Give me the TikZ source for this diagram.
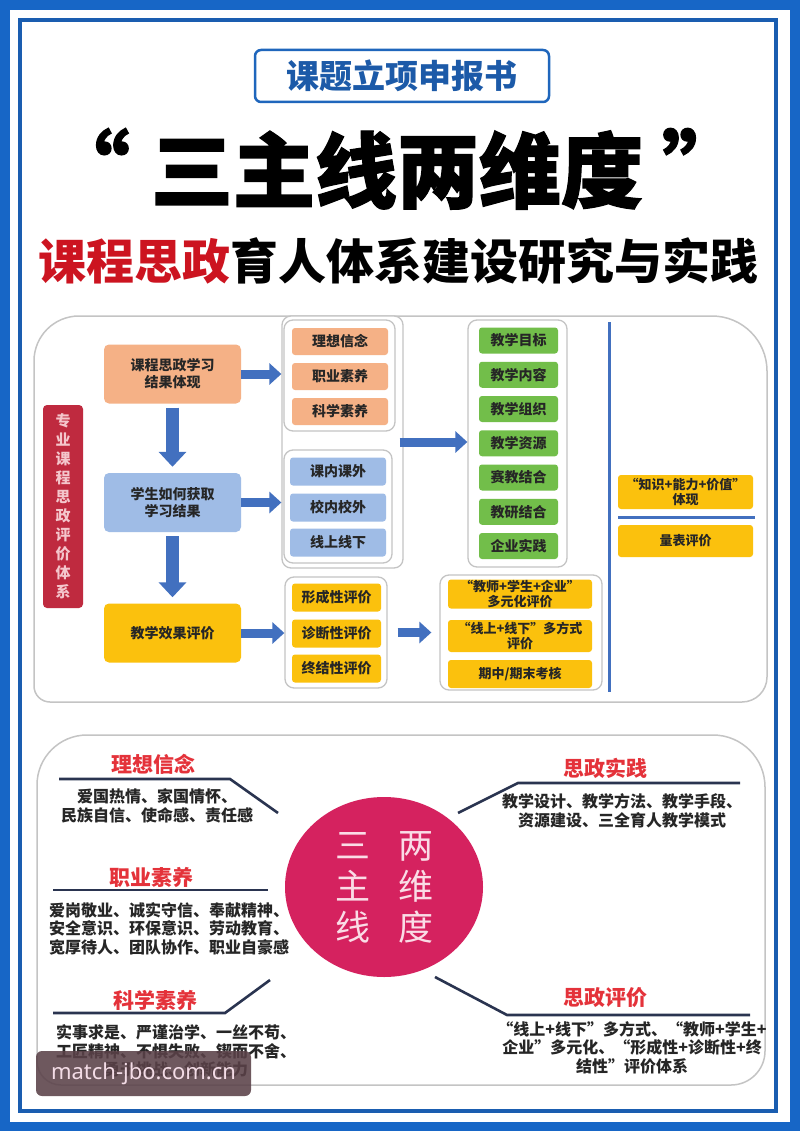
\documentclass[tikz,border=0pt]{standalone}
\usepackage{fontspec}
\setmainfont{Noto Sans CJK SC}
\newfontfamily\cjkheavy[FakeBold=1.5]{Noto Sans CJK SC}
\newfontfamily\wmfont{Noto Sans}
\usetikzlibrary{arrows.meta,shapes.geometric}
\newcommand\fz[2]{\fontsize{#1}{#2}\selectfont}
\definecolor{framebl}{HTML}{1766C6}
\definecolor{framebltwo}{HTML}{1A5DB0}
\definecolor{titlebl}{HTML}{1F66BC}
\definecolor{titletxt}{HTML}{1C5AA8}
\definecolor{titlered}{HTML}{CC1420}
\definecolor{orfill}{HTML}{F5B186}
\definecolor{blfill}{HTML}{9FBCE6}
\definecolor{yefill}{HTML}{FBC10D}
\definecolor{grfill}{HTML}{72BE4A}
\definecolor{redbox}{HTML}{BF2A3F}
\definecolor{pinktxt}{HTML}{F4C6CC}
\definecolor{arrowbl}{HTML}{4270BF}
\definecolor{grayline}{HTML}{C4C4C4}
\definecolor{circfill}{HTML}{D5225F}
\definecolor{circtxt}{HTML}{FADCE6}
\definecolor{headred}{HTML}{E4323A}
\definecolor{navy}{HTML}{2A3450}
\definecolor{txtdark}{HTML}{262626}
\definecolor{wmfill}{HTML}{5A4148}
\definecolor{wmtxt}{HTML}{F3DCE6}
\tikzset{
  item/.style={rounded corners=3pt, inner sep=0pt, align=center, text=txtdark, font=\bfseries\fz{14}{16}},
  oitem/.style={item, fill=orfill, minimum width=96pt, minimum height=27pt},
  bitem/.style={item, fill=blfill, minimum width=96pt, minimum height=28pt},
  yitem/.style={item, fill=yefill},
  gitem/.style={item, fill=grfill, minimum width=79pt, minimum height=26pt},
  ritem/.style={item, fill=yefill, font=\bfseries\fz{13}{15}, minimum width=144pt},
  bigbox/.style={rounded corners=5pt, inner sep=0pt, align=center, text=txtdark, font=\bfseries\fz{14}{17}, minimum width=137pt, minimum height=59pt},
  grp/.style={draw=grayline, line width=1.3pt, fill=white, rounded corners=9pt, inner sep=0pt},
  rarrow/.style={draw=arrowbl, line width=9pt, -{Triangle[length=12pt,width=21pt]}},
  darrow/.style={draw=arrowbl, line width=13pt, -{Triangle[length=15pt,width=27pt]}},
  panel/.style={draw=grayline, line width=1.5pt},
  branch/.style={draw=navy, line width=2.6pt},
  head/.style={text=headred, font=\bfseries\fz{21}{23}, inner sep=0pt},
  body/.style={text=txtdark, font=\bfseries\fz{16}{18.5}, align=center, inner sep=0pt},
}
\begin{document}
\begin{tikzpicture}[x=1pt,y=-1pt]
\useasboundingbox (0,0) rectangle (800,1131);
% frame
\fill[framebl] (0,0) rectangle (800,1131);
\fill[white] (10,10) rectangle (790,1122);
\draw[framebltwo, line width=4pt] (20,20) rectangle (775.5,1110.5);

% titles
\node[draw=titlebl, line width=2.5pt, rounded corners=6pt, minimum width=294pt, minimum height=52pt, inner sep=0pt, text=titletxt, font=\bfseries\fz{33}{36}] (tb) at (402,76) {课题立项申报书};
\node[inner sep=0pt, font=\cjkheavy\bfseries\fz{82}{90}] (mt) at (397,170) {三主线两维度};
\node[inner sep=0pt, font=\cjkheavy\bfseries\fz{82}{90}, anchor=north east] (ql) at (130,128) {“};
\node[inner sep=0pt, font=\cjkheavy\bfseries\fz{82}{90}, anchor=north west] (qr) at (662,128) {”};
\node[inner sep=0pt, font=\bfseries\fz{48}{52}] (st) at (398,261) {\textcolor{titlered}{课程思政}育人体系建设研究与实践};

% upper panel
\draw[panel] (34,500) [rounded corners=45pt] |- (400,316) [rounded corners=55pt] -| (767,500) [rounded corners=25pt] |- (400,702) [rounded corners=16pt] -| cycle;

\node[fill=redbox, rounded corners=4pt, minimum width=40pt, minimum height=203pt, inner sep=0pt, text=pinktxt, align=center, font=\bfseries\fz{15}{19}] (rv) at (63,506.5) {专\\业\\课\\程\\思\\政\\评\\价\\体\\系};

\node[bigbox, fill=orfill] (ob) at (172.5,374) {课程思政学习\\结果体现};
\node[bigbox, fill=blfill] (bb) at (172.5,502.5) {学生如何获取\\学习结果};
\node[bigbox, fill=yefill] (yb) at (172.5,633) {教学效果评价};

\node[grp, minimum width=121pt, minimum height=252pt] (c1) at (342.5,442) {};
\node[grp, minimum width=111pt, minimum height=111pt] (og) at (339.5,375.5) {};
\node[grp, minimum width=108pt, minimum height=113pt] (bg) at (338,506.5) {};
\node[grp, minimum width=102pt, minimum height=111pt] (yg) at (336,632.5) {};
\node[grp, minimum width=99pt, minimum height=247pt] (gc) at (517.5,443.5) {};
\node[grp, minimum width=162pt, minimum height=115pt] (ryc) at (521,632.5) {};

\node[oitem] (o1) at (340,341.5) {理想信念};
\node[oitem] (o2) at (340,376.5) {职业素养};
\node[oitem] (o3) at (340,411.5) {科学素养};
\node[bitem] (b1) at (338,471.5) {课内课外};
\node[bitem] (b2) at (338,507.5) {校内校外};
\node[bitem] (b3) at (338,542.5) {线上线下};
\node[yitem, minimum width=89pt, minimum height=28pt] (y1) at (336.5,597.5) {形成性评价};
\node[yitem, minimum width=89pt, minimum height=28pt] (y2) at (336.5,633.5) {诊断性评价};
\node[yitem, minimum width=89pt, minimum height=28pt] (y3) at (336.5,668.5) {终结性评价};

\node[gitem] (g1) at (518.5,340.5) {教学目标};
\node[gitem] (g2) at (518.5,374.75) {教学内容};
\node[gitem] (g3) at (518.5,409) {教学组织};
\node[gitem] (g4) at (518.5,443.25) {教学资源};
\node[gitem] (g5) at (518.5,477.5) {赛教结合};
\node[gitem] (g6) at (518.5,511.75) {教研结合};
\node[gitem] (g7) at (518.5,546) {企业实践};

\node[ritem, minimum height=29pt] (r1) at (520,594) {“教师+学生+企业”\\多元化评价};
\node[ritem, minimum height=32pt] (r2) at (520,636) {“线上+线下”多方式\\评价};
\node[ritem, minimum height=28pt] (r3) at (520,674) {期中/期末考核};

\coordinate (vt) at (609,322);
\coordinate (vb) at (609,692);
\draw[arrowbl, line width=3pt] (vt) -- (vb);
\node[ritem, minimum width=135pt, minimum height=34pt] (kn) at (685.5,492) {“知识+能力+价值”\\体现};
\node[ritem, minimum width=135pt, minimum height=32pt] (lb) at (685.5,541) {量表评价};
\coordinate (hl) at (618,517);
\coordinate (hr) at (755,517);
\draw[arrowbl, line width=3pt] (hl) -- (hr);

% arrows
\draw[rarrow] (ob.east) -- (ob.east -| c1.west);
\draw[rarrow] (bb.east) -- (bb.east -| c1.west);
\draw[rarrow] (yb.east) -- (yb.east -| yg.west);
\draw[darrow, shorten <=4pt, shorten >=6pt] (ob.south) -- (bb.north);
\draw[darrow, shorten <=4pt, shorten >=6pt] (bb.south) -- (yb.north);
\draw[rarrow, shorten <=-4pt] (c1.east) -- (c1.east -| gc.west);
\draw[rarrow, shorten <=10pt, shorten >=8pt] (yg.east) -- (yg.east -| ryc.west);

% lower panel
\draw[panel] (37,900) [rounded corners=50pt] |- (400,735) [rounded corners=52pt] -| (765,900) [rounded corners=34pt] |- (400,1085) [rounded corners=24pt] -| cycle;

\node[ellipse, fill=circfill, minimum width=198pt, minimum height=180pt, inner sep=0pt, text=circtxt, align=center, font=\fz{35}{41}] (circ) at (384,887) {三\hspace{28pt}两\\主\hspace{28pt}维\\线\hspace{28pt}度};

\coordinate (a1) at (59,779); \coordinate (a2) at (230,779); \coordinate (a3) at (278,813);
\coordinate (b1c) at (53,890); \coordinate (b2c) at (268,890);
\coordinate (c1c) at (53,1013); \coordinate (c2c) at (225,1013); \coordinate (c3c) at (270,980);
\coordinate (d1) at (458,813); \coordinate (d2) at (518,783); \coordinate (d3) at (740,783);
\coordinate (e1) at (435,977); \coordinate (e2) at (507,1015); \coordinate (e3) at (750,1015);
\draw[branch] (a1) -- (a2) -- (a3);
\draw[branch] (b1c) -- (b2c);
\draw[branch] (c1c) -- (c2c) -- (c3c);
\draw[branch] (d1) -- (d2) -- (d3);
\draw[branch] (e1) -- (e2) -- (e3);

\node[head] (h1) at (153.5,764) {理想信念};
\node[head] (h2) at (151.5,877) {职业素养};
\node[head] (h3) at (155,1000) {科学素养};
\node[head] (h4) at (605,768.5) {思政实践};
\node[head] (h5) at (605,997.5) {思政评价};

\node[body] (t1) at (157,806) {爱国热情、家国情怀、\\民族自信、使命感、责任感};
\node[body] (t2) at (169,928.5) {爱岗敬业、诚实守信、奉献精神、\\安全意识、环保意识、劳动教育、\\宽厚待人、团队协作、职业自豪感};
\node[body] (t3) at (176,1051) {实事求是、严谨治学、一丝不苟、\\工匠精神、不惧失败、锲而不舍、\\勇于挑战、创新能力};
\node[body] (t4) at (622,811) {教学设计、教学方法、教学手段、\\资源建设、三全育人教学模式};
\node[body] (t5) at (632,1047.5) {“线上+线下”多方式、“教师+学生+\\企业”多元化、“形成性+诊断性+终\\结性”评价体系};

% watermark
\node[fill=wmfill, fill opacity=0.88, text opacity=1, rounded corners=6pt, minimum width=215pt, minimum height=45pt, inner sep=0pt, text=wmtxt, font=\wmfont\fz{22}{24}] (wm) at (143.5,1073.5) {match-jbo.com.cn};
\end{tikzpicture}
\end{document}
